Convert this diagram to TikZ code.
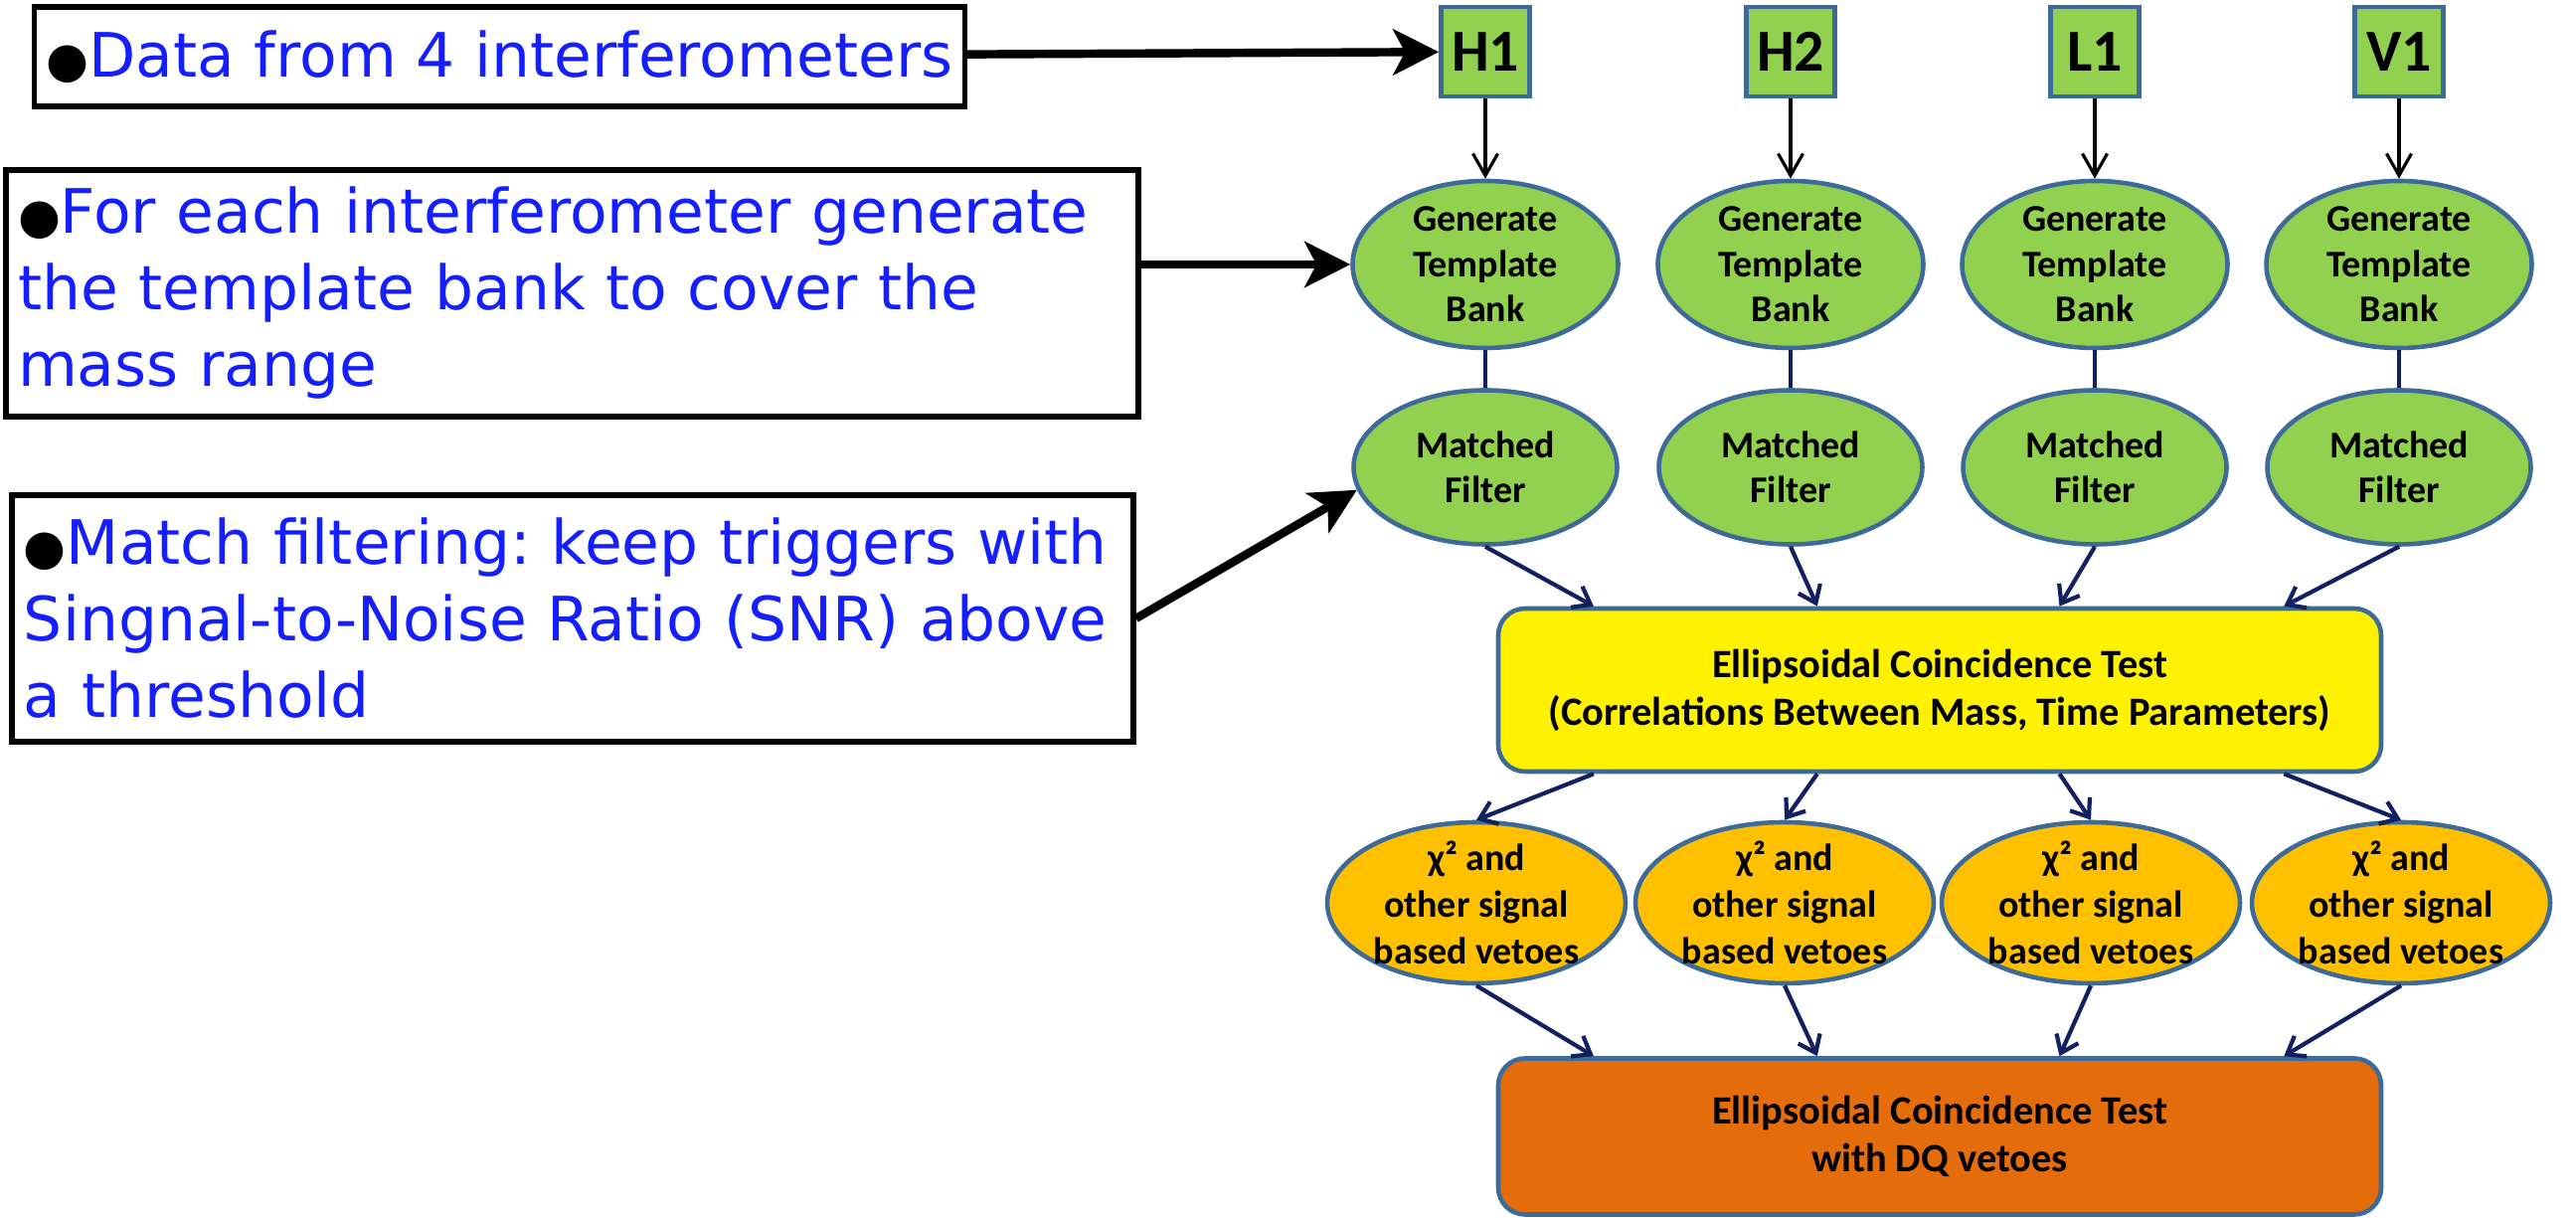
\documentclass[tikz,border=0pt]{standalone}
\usepackage{fontspec}
\setmainfont{Carlito}
\newfontfamily\notefont{DejaVu Sans}
\usepackage{xcolor}
\usetikzlibrary{shapes.geometric, arrows.meta, positioning, calc}

\definecolor{detgreen}{HTML}{92D050}
\definecolor{rimblue}{HTML}{3D6A99}
\definecolor{flownavy}{RGB}{16,32,96}
\definecolor{noteblue}{RGB}{20,30,255}
\definecolor{vetoamber}{HTML}{FFC000}
\definecolor{dqorange}{HTML}{E46C0A}

\newcommand{\notebullet}{{\color{black}\scalebox{0.8}{●}}}

\begin{document}
\begin{tikzpicture}[
  detbox/.style={draw=rimblue, line width=1.3pt, fill=detgreen, minimum width=0.89cm, minimum height=0.9cm, inner sep=0pt, font=\bfseries\fontsize{17}{20}\selectfont},
  stage/.style={ellipse, draw=rimblue, line width=1.3pt, fill=detgreen, inner sep=-4pt, align=center, font=\bfseries\fontsize{10.8}{12.9}\selectfont},
  vetostage/.style={stage, fill=vetoamber, minimum width=3.0cm, minimum height=1.62cm, font=\bfseries\fontsize{10.8}{13.4}\selectfont},
  testbox/.style={draw=rimblue, line width=1.3pt, rounded corners=0.27cm, minimum width=8.88cm, align=center, font=\bfseries\fontsize{11.5}{13.6}\selectfont},
  note/.style={draw, line width=1.5pt, inner xsep=0.12cm, align=left, text=noteblue, font=\notefont\fontsize{17.5}{21.9}\selectfont\frenchspacing},
  flow/.style={-{Straight Barb[length=1.6mm, width=2.4mm]}, line width=1.2pt, flownavy},
  pointer/.style={-{Stealth[length=4.6mm, width=4.6mm, inset=1.2mm]}, line width=2.4pt}
]
  \useasboundingbox (0,0) rectangle (25.91,-12.25);

  % Detectors and per-detector stages
  \foreach \i/\x/\lbl in {1/14.94/H1, 2/18.01/H2, 3/21.07/L1, 4/24.13/V1} {
    \node[detbox] (det\i) at (\x,-0.52) {\lbl};
    \node[stage, minimum width=2.67cm, minimum height=1.68cm] (gtb\i) at (\x,-2.66) {Generate\\Template\\Bank};
    \node[stage, minimum width=2.65cm, minimum height=1.55cm] (mf\i) at (\x,-4.70) {Matched\\Filter};
    \draw[-{Straight Barb[length=2.2mm, width=2.5mm]}, line width=0.9pt] (det\i) -- (gtb\i);
    \draw[flownavy, line width=1pt] (gtb\i) -- (mf\i);
  }

  % Coincidence tests
  \node[testbox, fill=yellow, minimum height=1.64cm] (ect) at (19.51,-6.94) {Ellipsoidal Coincidence Test\\(Correlations Between Mass, Time Parameters)};
  \node[testbox, fill=dqorange, minimum height=1.57cm] (ectdq) at (19.51,-11.43) {Ellipsoidal Coincidence Test\\with DQ vetoes};

  % Signal based vetoes
  \foreach \i/\x in {1/14.85, 2/17.95, 3/21.03, 4/24.15}
    \node[vetostage] (veto\i) at (\x,-9.08) {χ² and\\other signal\\based vetoes};

  % Flow arrows
  \foreach \i/\f in {1/0.11, 2/0.362, 3/0.635, 4/0.888} {
    \draw[flow] (mf\i.south) -- ($(ect.north west)!\f!(ect.north east)$);
    \draw[flow] ($(ect.south west)!\f!(ect.south east)$) -- (veto\i.north);
    \draw[flow] (veto\i.south) -- ($(ectdq.north west)!\f!(ectdq.north east)$);
  }

  % Notes on the left
  \node[note, minimum height=1.0cm] (datanote) at (5.025,-0.57) {\notebullet Data from 4 interferometers};
  \node[note, text width=11.15cm, minimum height=2.48cm] (banknote) at (5.755,-2.95) {\notebullet For each interferometer generate\\the template bank to cover the\\mass range};
  \node[note, text width=11.04cm, minimum height=2.48cm] (filternote) at (5.76,-6.22) {\notebullet Match filtering: keep triggers with\\Singnal-to-Noise Ratio (SNR) above\\a threshold};

  \draw[pointer] (datanote) -- (det1);
  \draw[pointer] (banknote.east |- gtb1.west) -- (gtb1.west);
  \draw[pointer] (filternote.east) -- (mf1.190);
\end{tikzpicture}
\end{document}
